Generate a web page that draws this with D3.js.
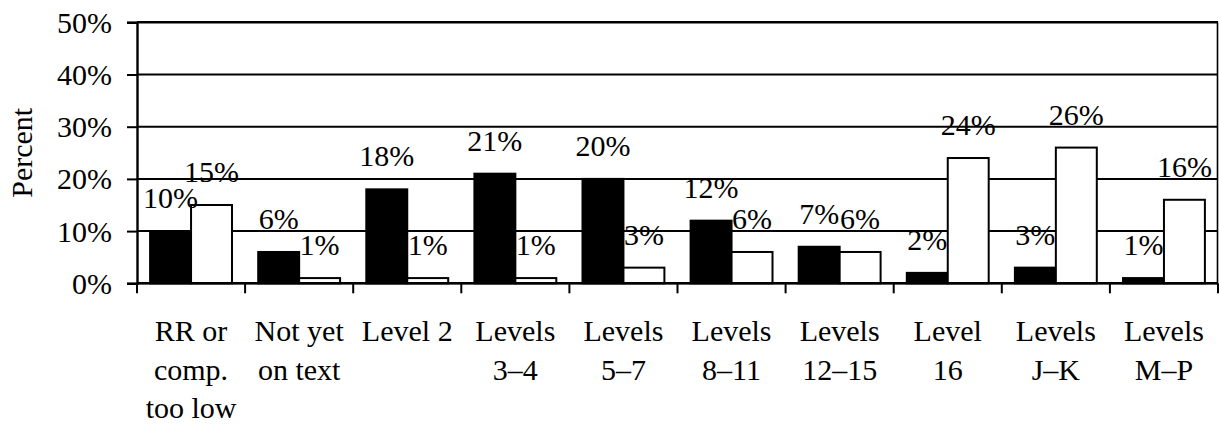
<!DOCTYPE html>
<html>
<head>
<meta charset="utf-8">
<script src="https://cdn.jsdelivr.net/npm/d3@7"></script>
<style>
  html, body { margin: 0; padding: 0; background: #fff; }
  svg { display: block; }
</style>
</head>
<body>
<svg id="chart" width="1219" height="426"></svg>
<script>
// Category labels, one array entry per printed line
const categories = [
  ["RR or", "comp.", "too low"],
  ["Not yet", "on text"],
  ["Level 2"],
  ["Levels", "3\u20134"],
  ["Levels", "5\u20137"],
  ["Levels", "8\u201311"],
  ["Levels", "12\u201315"],
  ["Level", "16"],
  ["Levels", "J\u2013K"],
  ["Levels", "M\u2013P"]
];
// Percent values for the two series (black bars, white bars)
const seriesBlack = [10, 6, 18, 21, 20, 12, 7, 2, 3, 1];
const seriesWhite = [15, 1, 1, 1, 3, 6, 6, 24, 26, 16];
const yTicks = [0, 10, 20, 30, 40, 50];

const FONT = '"Liberation Serif", "Times New Roman", Times, serif';
const fontSize = 30;

const svg = d3.select("#chart");
const plotLeft = 137, plotRight = 1218, plotTop = 22.3, plotBottom = 283.3;

const x = d3.scaleBand().domain(d3.range(categories.length)).range([plotLeft, plotRight]).padding(0);
const inner = d3.scaleBand().domain(["black", "white"]).range([0, x.bandwidth()])
  .paddingInner(0).paddingOuter(0.32);
const y = d3.scaleLinear().domain([0, 50]).range([plotBottom, plotTop]);

// Horizontal gridlines
svg.append("g").selectAll("line").data(yTicks).join("line")
  .attr("x1", plotLeft).attr("x2", plotRight)
  .attr("y1", d => y(d)).attr("y2", d => y(d))
  .attr("stroke", "#000").attr("stroke-width", d => d === 50 ? 2.6 : 2);

// Right border of plot area
svg.append("line").attr("x1", plotRight - 0.5).attr("x2", plotRight - 0.5)
  .attr("y1", plotTop).attr("y2", plotBottom).attr("stroke", "#000").attr("stroke-width", 1.6);

// Y axis
const yAxis = d3.axisLeft(y).tickValues(yTicks).tickSize(10).tickFormat(d => d + "%");
const gy = svg.append("g").attr("transform", `translate(${plotLeft},0)`).call(yAxis)
  .attr("font-family", FONT).attr("font-size", fontSize);
gy.select(".domain").attr("stroke", "#000").attr("stroke-width", 2.4);
gy.selectAll(".tick line").attr("stroke", "#000").attr("stroke-width", 2);
gy.selectAll(".tick text")
  .attr("x", -25).attr("dy", "0.33em")
  .style("font-family", FONT)
  .style("font-size", fontSize + "px").attr("fill", "#000");

// Y axis title
svg.append("text")
  .attr("transform", `translate(32,${(plotTop + plotBottom) / 2}) rotate(-90)`)
  .attr("text-anchor", "middle")
  .style("font-family", FONT)
  .style("font-size", fontSize + "px")
  .text("Percent");

// Bars
const groups = svg.append("g").selectAll("g").data(categories.map((c, i) => i)).join("g")
  .attr("transform", i => `translate(${x(i)},0)`);

const barData = i => [
  { key: "black", v: seriesBlack[i] },
  { key: "white", v: seriesWhite[i] }
];

groups.selectAll("rect").data(barData).join("rect")
  .attr("x", d => inner(d.key))
  .attr("width", inner.bandwidth())
  .attr("y", d => y(d.v))
  .attr("height", d => y(0) - y(d.v))
  .attr("fill", d => d.key === "black" ? "#000" : "#fff")
  .attr("stroke", "#000").attr("stroke-width", 2);

// Value labels
groups.selectAll("text.val").data(barData).join("text")
  .attr("class", "val")
  .attr("x", d => inner(d.key) + inner.bandwidth() / 2)
  .attr("y", d => y(d.v) - 23)
  .attr("text-anchor", "middle")
  .style("font-family", FONT)
  .style("font-size", fontSize + "px")
  .attr("fill", "#000")
  .text(d => d.v + "%");

// X axis baseline and ticks at category boundaries
svg.append("line").attr("x1", plotLeft).attr("x2", plotRight)
  .attr("y1", plotBottom).attr("y2", plotBottom).attr("stroke", "#000").attr("stroke-width", 2.4);
svg.append("g").selectAll("line").data(d3.range(categories.length + 1)).join("line")
  .attr("x1", i => plotLeft + i * x.step()).attr("x2", i => plotLeft + i * x.step())
  .attr("y1", plotBottom).attr("y2", plotBottom + 10)
  .attr("stroke", "#000").attr("stroke-width", 2);

// Category labels
const lineBaselines = [341, 379.5, 418];
svg.append("g").selectAll("text").data(categories.map((c, i) => i)).join("text")
  .attr("text-anchor", "middle")
  .style("font-family", FONT)
  .style("font-size", fontSize + "px")
  .attr("fill", "#000")
  .each(function (i) {
    d3.select(this).selectAll("tspan").data(categories[i]).join("tspan")
      .attr("x", x(i) + x.bandwidth() / 2)
      .attr("y", (d, k) => lineBaselines[k])
      .text(d => d);
  });
</script>
</body>
</html>
